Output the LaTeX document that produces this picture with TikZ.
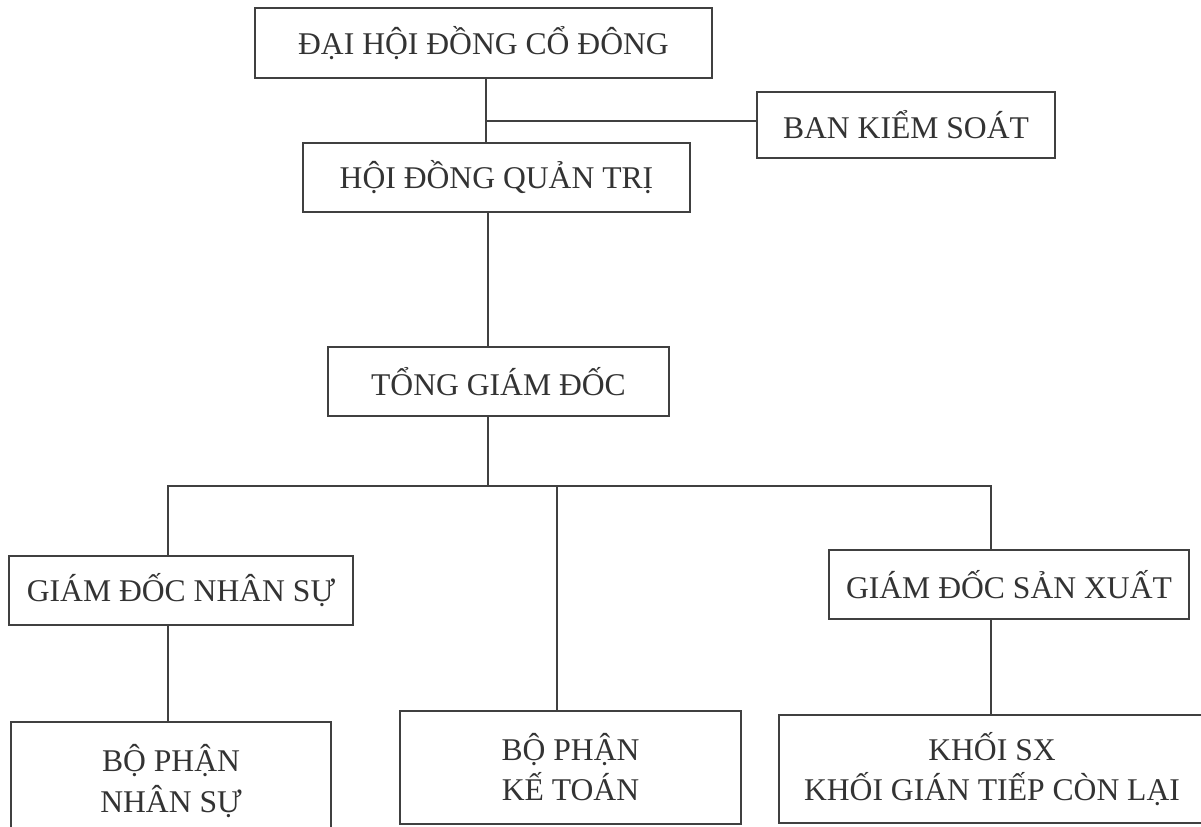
\documentclass[tikz,border=0pt]{standalone}
\usepackage{fontspec}
\setmainfont{Liberation Serif}
\tikzset{
  unitbox/.style={draw=black!75, line width=0.9pt, text=black!80, align=center,
    inner sep=0pt, font=\fontsize{18}{22.8}\selectfont},
  link/.style={draw=black!75, line width=0.9pt}
}
\begin{document}
\begin{tikzpicture}[x=0.02cm, y=-0.02cm]
          \useasboundingbox (0,0) rectangle (1201,826);
          \clip (0,0) rectangle (1201,826);

          \node[unitbox, minimum width=9.14cm, minimum height=1.4cm] (dhdcd) at (483.5,43) {ĐẠI HỘI ĐỒNG CỔ ĐÔNG};
          \node[unitbox, minimum width=5.96cm, minimum height=1.32cm] (bks) at (906,125) {BAN KIỂM SOÁT};
          \node[unitbox, minimum width=7.74cm, minimum height=1.38cm] (hdqt) at (496.5,177.5) {HỘI ĐỒNG QUẢN TRỊ};
          \node[unitbox, minimum width=6.82cm, minimum height=1.38cm] (tgd) at (498.5,381.5) {TỔNG GIÁM ĐỐC};

          \node[unitbox, minimum width=6.88cm, minimum height=1.38cm] (gdns) at (181,590.5) {GIÁM ĐỐC NHÂN SỰ};
          \node[unitbox, minimum width=7.2cm, minimum height=1.38cm] (gdsx) at (1009,584.5) {GIÁM ĐỐC SẢN XUẤT};

          \node[unitbox, minimum width=6.4cm, minimum height=2.36cm] (bpns) at (171,781) {BỘ PHẬN\\NHÂN SỰ};
          \node[unitbox, minimum width=6.82cm, minimum height=2.26cm] (bpkt) at (570.5,767.5) {BỘ PHẬN\\KẾ TOÁN};
          \node[unitbox, minimum width=8.52cm, minimum height=2.16cm] (khoi) at (992,769) {KHỐI SX\\KHỐI GIÁN TIẾP CÒN LẠI};

          \coordinate (j1) at (486,121);
          \coordinate (j2) at (488,486);
          \coordinate (b1) at (168,486);
          \coordinate (b2) at (557,486);
          \coordinate (b3) at (991,486);

          \draw[link] (dhdcd.south -| j1) -- (hdqt.north -| j1);
          \draw[link] (j1) -- (j1 -| bks.west);
          \draw[link] (hdqt.south -| j2) -- (tgd.north -| j2);
          \draw[link] (tgd.south -| j2) -- (j2);

          \draw[link] (gdns.north -| b1) -- (b1) -- (b3) -- (gdsx.north -| b3);
          \draw[link] (b2) -- (bpkt.north -| b2);
          \draw[link] (gdns.south -| b1) -- (bpns.north -| b1);
          \draw[link] (gdsx.south -| b3) -- (khoi.north -| b3);
        \end{tikzpicture}
\end{document}
